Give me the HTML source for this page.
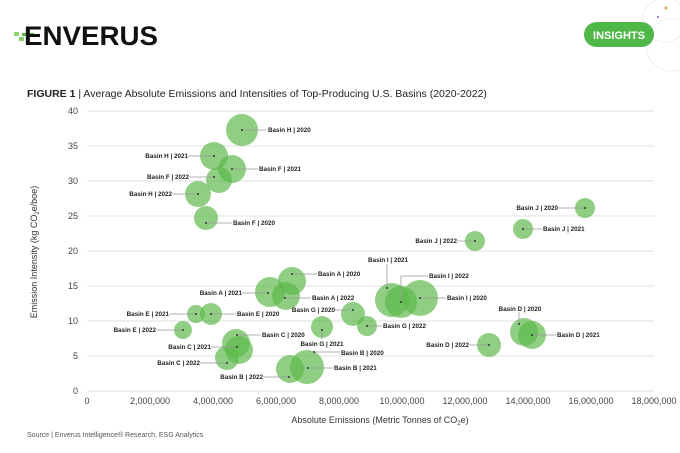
<!DOCTYPE html>
<html><head><meta charset="utf-8"><style>
html,body{margin:0;padding:0;background:#fff;width:680px;height:453px;overflow:hidden;font-family:"Liberation Sans",sans-serif}
</style></head><body>
<svg width="680" height="453" viewBox="0 0 680 453" xmlns="http://www.w3.org/2000/svg" font-family="Liberation Sans, sans-serif">
<!-- logo -->
<rect x="14" y="32" width="5" height="4" fill="#8fd16f"/>
<rect x="19" y="37" width="5" height="4" fill="#8fd16f"/>
<rect x="22" y="33" width="12" height="3" fill="#5cb848"/>
<text x="24" y="45" font-size="27" font-weight="bold" fill="#111" textLength="134" lengthAdjust="spacingAndGlyphs">ENVERUS</text>
<circle cx="665" cy="20" r="22" fill="none" stroke="#eee"/>
<circle cx="672" cy="45" r="26" fill="none" stroke="#eee"/>
<circle cx="666" cy="8" r="1.5" fill="#f0a040"/>
<circle cx="658" cy="17" r="1" fill="#9050c0"/>
<rect x="584" y="22" width="70" height="25" rx="12.5" fill="#4fb848"/>
<text x="619" y="39" font-size="11" font-weight="bold" fill="#fff" text-anchor="middle">INSIGHTS</text>
<text x="27" y="97" font-size="10.5" fill="#222"><tspan font-weight="bold">FIGURE 1</tspan> | Average Absolute Emissions and Intensities of Top-Producing U.S. Basins (2020-2022)</text>
<!-- grid -->
<g stroke="#e0e0e0" stroke-width="1">
<line x1="87" x2="654" y1="111" y2="111"/><line x1="87" x2="654" y1="146" y2="146"/><line x1="87" x2="654" y1="181" y2="181"/><line x1="87" x2="654" y1="216" y2="216"/><line x1="87" x2="654" y1="251" y2="251"/><line x1="87" x2="654" y1="286" y2="286"/><line x1="87" x2="654" y1="321" y2="321"/><line x1="87" x2="654" y1="356" y2="356"/><line x1="87" x2="654" y1="391" y2="391"/>
</g>
<g font-size="9" fill="#444" text-anchor="end">
<text x="78" y="114">40</text><text x="78" y="149">35</text><text x="78" y="184">30</text><text x="78" y="219">25</text><text x="78" y="254">20</text><text x="78" y="289">15</text><text x="78" y="324">10</text><text x="78" y="359">5</text><text x="78" y="394">0</text>
</g>
<g font-size="9" fill="#444" text-anchor="middle">
<text x="87" y="404">0</text><text x="150" y="404">2,000,000</text><text x="213" y="404">4,000,000</text><text x="276" y="404">6,000,000</text><text x="339" y="404">8,000,000</text><text x="402" y="404">10,000,000</text><text x="465" y="404">12,000,000</text><text x="528" y="404">14,000,000</text><text x="591" y="404">16,000,000</text><text x="654" y="404">18,000,000</text>
</g>
<text x="380" y="423" font-size="9" fill="#333" text-anchor="middle">Absolute Emissions (Metric Tonnes of CO<tspan font-size="6" dy="2">2</tspan><tspan dy="-2">e)</tspan></text>
<text transform="translate(37,252) rotate(-90)" font-size="9" fill="#333" text-anchor="middle">Emission Intensity (kg CO<tspan font-size="6" dy="2">2</tspan><tspan dy="-2">e/boe)</tspan></text>
<text x="27" y="437" font-size="7" fill="#555">Source | Enverus Intelligence® Research, ESG Analytics</text>
<!-- bubbles -->
<g fill="#5cb848" fill-opacity="0.68">
<circle cx="242" cy="130" r="16"/><circle cx="214" cy="156" r="14"/><circle cx="232" cy="169" r="14"/><circle cx="219" cy="180" r="13"/><circle cx="198" cy="194" r="13"/><circle cx="206" cy="218" r="12"/>
<circle cx="292" cy="281" r="14"/><circle cx="270" cy="292" r="15"/><circle cx="286" cy="296" r="14"/>
<circle cx="196" cy="314" r="9"/><circle cx="211" cy="314" r="11"/><circle cx="183" cy="330" r="9"/>
<circle cx="236" cy="343" r="14"/><circle cx="239" cy="350" r="14"/><circle cx="227" cy="358" r="12"/>
<circle cx="322" cy="327" r="11"/><circle cx="353" cy="314" r="12"/><circle cx="367" cy="326" r="10"/>
<circle cx="290" cy="369" r="14"/><circle cx="307" cy="367" r="17"/>
<circle cx="392" cy="300" r="17"/><circle cx="420" cy="298" r="18"/><circle cx="401" cy="302" r="16"/>
<circle cx="585" cy="208" r="10"/><circle cx="523" cy="229" r="10"/><circle cx="475" cy="241" r="10"/>
<circle cx="524" cy="332" r="14"/><circle cx="532" cy="335" r="14"/><circle cx="489" cy="345" r="12"/>
</g>
<!-- leaders -->
<g stroke="#999" stroke-width="0.8" fill="none">
<path d="M242 130H266"/><path d="M188 156H214"/><path d="M232 169H258"/><path d="M189 177H214"/><path d="M172 194H198"/><path d="M206 223H232"/>
<path d="M292 274H317"/><path d="M242 293H268"/><path d="M285 298H311"/>
<path d="M169 314H196"/><path d="M211 314H236"/><path d="M156 330H183"/>
<path d="M237 335H261"/><path d="M211 347H237"/><path d="M200 363H227"/>
<path d="M322 330V339"/><path d="M335 310H353"/><path d="M367 326H382"/>
<path d="M314 352H340"/><path d="M308 368H333"/><path d="M263 377H289"/>
<path d="M387 288V264"/><path d="M401 302V276H428"/><path d="M420 298H446"/>
<path d="M558 208H585"/><path d="M523 229H542"/><path d="M457 241H475"/>
<path d="M519 324V312"/><path d="M532 335H556"/><path d="M469 345H489"/>
</g>
<g fill="#111">
<circle cx="242" cy="130" r="0.9"/><circle cx="214" cy="156" r="0.9"/><circle cx="232" cy="169" r="0.9"/><circle cx="214" cy="177" r="0.9"/><circle cx="198" cy="194" r="0.9"/><circle cx="206" cy="223" r="0.9"/><circle cx="292" cy="274" r="0.9"/><circle cx="268" cy="293" r="0.9"/><circle cx="285" cy="298" r="0.9"/><circle cx="196" cy="314" r="0.9"/><circle cx="211" cy="314" r="0.9"/><circle cx="183" cy="330" r="0.9"/><circle cx="237" cy="335" r="0.9"/><circle cx="237" cy="347" r="0.9"/><circle cx="227" cy="363" r="0.9"/><circle cx="322" cy="330" r="0.9"/><circle cx="353" cy="310" r="0.9"/><circle cx="367" cy="326" r="0.9"/><circle cx="314" cy="352" r="0.9"/><circle cx="308" cy="368" r="0.9"/><circle cx="289" cy="377" r="0.9"/><circle cx="387" cy="288" r="0.9"/><circle cx="401" cy="302" r="0.9"/><circle cx="420" cy="298" r="0.9"/><circle cx="585" cy="208" r="0.9"/><circle cx="523" cy="229" r="0.9"/><circle cx="475" cy="241" r="0.9"/><circle cx="519" cy="324" r="0.9"/><circle cx="532" cy="335" r="0.9"/><circle cx="489" cy="345" r="0.9"/>
</g>
<g font-size="6.3" font-weight="bold" fill="#222">
<text x="268" y="132">Basin H | 2020</text>
<text x="188" y="158" text-anchor="end">Basin H | 2021</text>
<text x="259" y="171">Basin F | 2021</text>
<text x="189" y="179" text-anchor="end">Basin F | 2022</text>
<text x="172" y="196" text-anchor="end">Basin H | 2022</text>
<text x="233" y="225">Basin F | 2020</text>
<text x="318" y="276">Basin A | 2020</text>
<text x="242" y="295" text-anchor="end">Basin A | 2021</text>
<text x="312" y="300">Basin A | 2022</text>
<text x="169" y="316" text-anchor="end">Basin E | 2021</text>
<text x="237" y="316">Basin E | 2020</text>
<text x="156" y="332" text-anchor="end">Basin E | 2022</text>
<text x="262" y="337">Basin C | 2020</text>
<text x="211" y="349" text-anchor="end">Basin C | 2021</text>
<text x="200" y="365" text-anchor="end">Basin C | 2022</text>
<text x="322" y="346" text-anchor="middle">Basin G | 2021</text>
<text x="335" y="312" text-anchor="end">Basin G | 2020</text>
<text x="383" y="328">Basin G | 2022</text>
<text x="341" y="355">Basin B | 2020</text>
<text x="334" y="370">Basin B | 2021</text>
<text x="263" y="379" text-anchor="end">Basin B | 2022</text>
<text x="388" y="262" text-anchor="middle">Basin I | 2021</text>
<text x="429" y="278">Basin I | 2022</text>
<text x="447" y="300">Basin I | 2020</text>
<text x="558" y="210" text-anchor="end">Basin J | 2020</text>
<text x="543" y="231">Basin J | 2021</text>
<text x="457" y="243" text-anchor="end">Basin J | 2022</text>
<text x="520" y="311" text-anchor="middle">Basin D | 2020</text>
<text x="557" y="337">Basin D | 2021</text>
<text x="469" y="347" text-anchor="end">Basin D | 2022</text>
</g>
</svg>
</body></html>
